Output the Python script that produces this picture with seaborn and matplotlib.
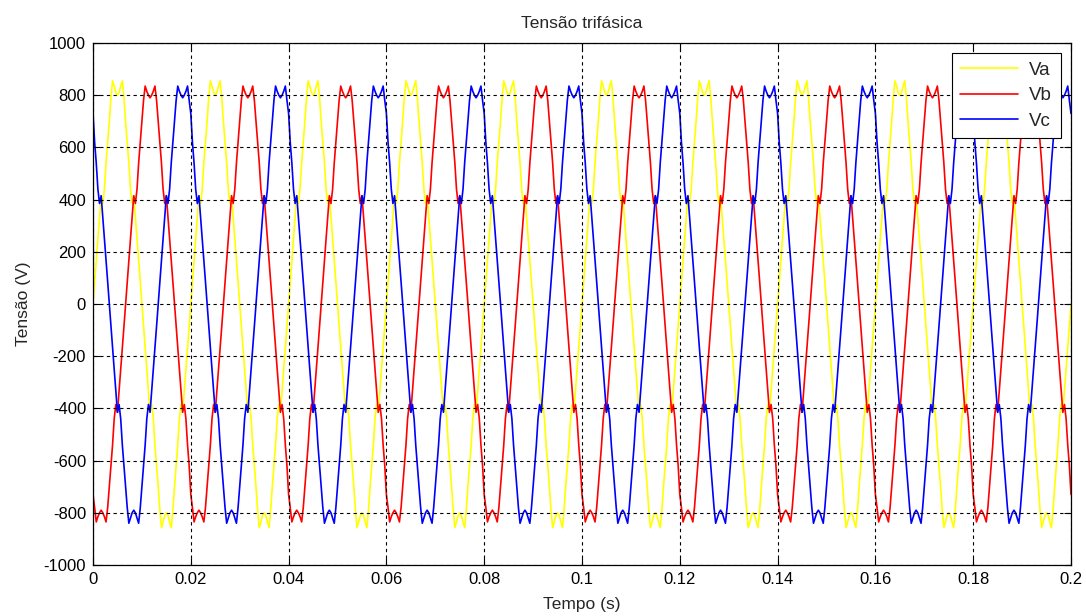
import numpy as np
import pandas as pd
import matplotlib
matplotlib.use("Agg")
import matplotlib.pyplot as plt
import seaborn as sns

# One period (0.02 s, 60 samples) of each phase voltage
va_period = [0, 85, 170, 250, 330, 415, 385, 440, 540, 620,
             700, 790, 855, 835, 810, 800, 810, 835, 855, 790,
             700, 620, 540, 440, 385, 415, 330, 250, 170, 85,
             0, -85, -170, -250, -330, -415, -385, -440, -540, -620,
             -700, -790, -857, -835, -810, -800, -810, -835, -857, -790,
             -700, -620, -540, -440, -385, -415, -330, -250, -170, -85]
vb_period = [-730, -780, -835, -815, -800, -790, -800, -815, -835, -780,
             -700, -620, -540, -440, -385, -415, -330, -250, -170, -85,
             0, 85, 170, 250, 330, 415, 385, 440, 540, 620,
             700, 780, 835, 815, 800, 790, 800, 815, 835, 780,
             700, 620, 540, 440, 385, 415, 330, 250, 170, 85,
             0, -85, -170, -250, -330, -415, -385, -440, -540, -620]
vc_period = [730, 620, 540, 440, 385, 415, 330, 250, 170, 85,
             0, -85, -170, -250, -330, -415, -385, -440, -540, -620,
             -700, -780, -840, -820, -800, -790, -800, -820, -840, -780,
             -700, -620, -540, -440, -385, -415, -330, -250, -170, -85,
             0, 85, 170, 250, 330, 415, 385, 440, 540, 620,
             700, 780, 835, 815, 800, 790, 800, 815, 835, 780]
n_periods = 10
t_end = 0.2

x_ticks = [0, 0.02, 0.04, 0.06, 0.08, 0.1, 0.12, 0.14, 0.16, 0.18, 0.2]
x_ticklabels = ["0", "0.02", "0.04", "0.06", "0.08", "0.1", "0.12", "0.14", "0.16", "0.18", "0.2"]
y_ticks = [-1000, -800, -600, -400, -200, 0, 200, 400, 600, 800, 1000]

va = np.concatenate([np.tile(va_period, n_periods), [va_period[0]]])
vb = np.concatenate([np.tile(vb_period, n_periods), [vb_period[0]]])
vc = np.concatenate([np.tile(vc_period, n_periods), [vc_period[0]]])
t = np.linspace(0, t_end, len(va))

df = pd.DataFrame({"t": np.concatenate([t, t, t]),
                   "v": np.concatenate([va, vb, vc]),
                   "fase": ["Va"] * len(t) + ["Vb"] * len(t) + ["Vc"] * len(t)})

sns.set_theme(style="white")
plt.rcParams["font.family"] = ["Liberation Sans", "DejaVu Sans"]
plt.rcParams["axes.unicode_minus"] = False

fig = plt.figure(figsize=(10.86, 6.16), dpi=100)
ax = fig.add_axes([93 / 1086, 1 - 565 / 616, (1071 - 93) / 1086, (565 - 43) / 616])

sns.lineplot(data=df, x="t", y="v", hue="fase", palette={"Va": "#FFFF00", "Vb": "#FF0000", "Vc": "#0000FF"},
             estimator=None, sort=False, linewidth=1.2, ax=ax, legend=True)

ax.set_xlim(0, t_end)
ax.set_ylim(-1000, 1000)
ax.set_xticks(x_ticks)
ax.set_xticklabels(x_ticklabels)
ax.set_yticks(y_ticks)
ax.grid(True, color="black", linestyle=(0, (3, 3)), linewidth=0.8)
ax.set_axisbelow(False)
for s in ax.spines.values():
    s.set_color("black")
    s.set_linewidth(0.9)
ax.tick_params(direction="in", length=5, width=0.8, top=True, right=True, colors="black",
               labelsize=12, pad=5, bottom=True, left=True)
ax.set_title("Tensão trifásica", fontsize=12.5, pad=11)
ax.set_xlabel("Tempo (s)", fontsize=12.5, labelpad=7)
ax.set_ylabel("Tensão (V)", fontsize=12.5, labelpad=9)

leg = ax.legend(loc="upper right", fontsize=13.5, handlelength=3.1, handletextpad=0.6, frameon=True,
                fancybox=False, edgecolor="black", framealpha=1, borderaxespad=0.55,
                labelspacing=0.45, borderpad=0.45, title=None)
leg.get_frame().set_linewidth(0.8)

fig.savefig("out.png", dpi=100, facecolor="white")
